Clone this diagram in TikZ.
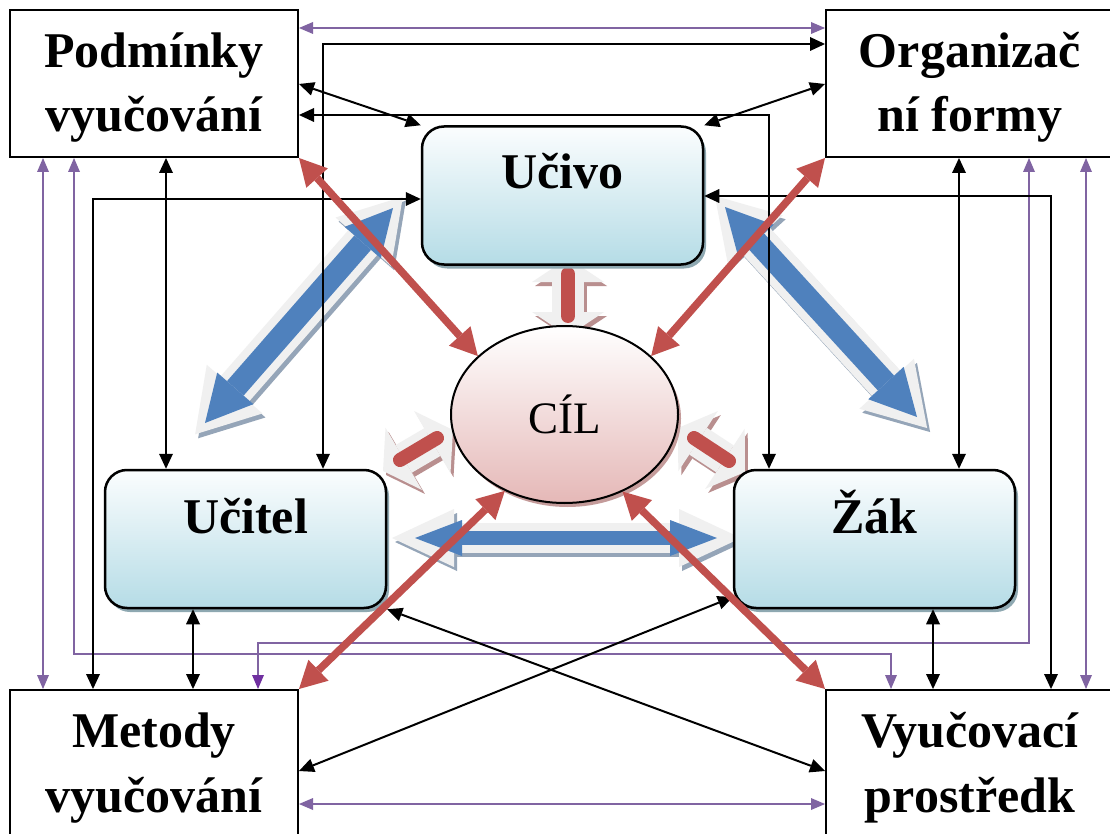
\documentclass[tikz,border=0pt]{standalone}
\usepackage{fontspec}
\setmainfont{Liberation Serif}
\usetikzlibrary{arrows.meta,shapes.geometric,shadows}
\definecolor{cred}{HTML}{C0504D}
\definecolor{cblue}{HTML}{4F81BD}
\definecolor{cpurple}{HTML}{8064A2}
\definecolor{dpurple}{HTML}{7030A0}
\definecolor{glowc}{HTML}{F0F0F0}
\definecolor{bsh}{HTML}{95A5B8}
\definecolor{rsh}{HTML}{B98F8F}
\definecolor{boxtop}{HTML}{FBFDFE}
\definecolor{boxbot}{HTML}{B5DCE6}
\definecolor{boxsh}{HTML}{8EA8B1}
\definecolor{ellbot}{HTML}{E5B8B7}
\definecolor{ellsh}{HTML}{C49B9A}
\tikzset{
  BTip/.tip={Triangle[length=15pt,width=14pt,line width=0pt]},
  PTip/.tip={Triangle[length=14pt,width=12pt,line width=0pt]},
  DTip/.tip={Triangle[length=14pt,width=12pt,line width=0pt,color=dpurple]},
  RTip/.tip={Triangle[length=27pt,width=29pt,line width=0pt]},
  GTip/.tip={Triangle[length=60pt,width=74pt,line width=0pt]},
  CTip/.tip={Triangle[length=46pt,width=48pt,line width=0pt]},
  HGTip/.tip={Triangle[length=62pt,width=58pt,line width=0pt]},
  HCTip/.tip={Triangle[length=47pt,width=36pt,line width=0pt]},
  SGTip/.tip={Triangle[length=24pt,width=72pt,line width=0pt]},
  cbox/.style={draw=black, line width=2pt, fill=white, rectangle, inner sep=0pt,
    minimum width=288pt, minimum height=147pt},
  rbox/.style={draw=black, line width=2.5pt, rounded corners=22pt, top color=boxtop,
    bottom color=boxbot, inner sep=0pt, minimum width=281pt, minimum height=138pt,
    drop shadow={shadow xshift=3pt,shadow yshift=-4pt,fill=boxsh,opacity=1}},
  lbl/.style={font=\fontsize{50}{60}\selectfont\bfseries, anchor=base, inner sep=0pt},
  blk/.style={line width=2pt, draw=black, {BTip}-{BTip}},
  prp/.style={line width=1.7pt, draw=cpurple, {PTip}-{PTip}},
  redarr/.style={line width=7.5pt, draw=cred, {RTip}-{RTip}},
  bglow/.style={line width=38pt, draw=glowc, {GTip}-{GTip}, shorten <=-15pt, shorten >=-15pt},
  bshadow/.style={bglow, draw=bsh, transform canvas={xshift=3pt,yshift=-4pt}},
  bcore/.style={line width=22pt, draw=cblue, {CTip}-{CTip}},
  hglow/.style={line width=30pt, draw=glowc, {HGTip}-{HGTip}, shorten <=-23pt, shorten >=-24pt},
  hshadow/.style={hglow, draw=bsh, transform canvas={xshift=3pt,yshift=-4pt}},
  hcore/.style={line width=14pt, draw=cblue, {HCTip}-{HCTip}},
  sglow/.style={line width=32pt, draw=glowc, {SGTip}-{SGTip}},
  sshadow/.style={sglow, draw=rsh, transform canvas={xshift=3pt,yshift=-4pt}},
  sbar/.style={line width=14pt, draw=cred, line cap=round},
}
\begin{document}
\begin{tikzpicture}[x=1pt,y=-1pt]
\useasboundingbox (0,0) rectangle (1110,834);
\fill[white] (0,0) rectangle (1110,834);
\clip (0,0) rectangle (1110,834);

% free ends of the wide arrows
\coordinate (b1a) at (393,208); \coordinate (b1b) at (205,423);
\coordinate (b2a) at (725,207); \coordinate (b2b) at (917,417);
\coordinate (b3a) at (415,538); \coordinate (b3b) at (717,538);
\coordinate (s1a) at (568,258); \coordinate (s1b) at (568,336);
\coordinate (r1a) at (568,274); \coordinate (r1b) at (568,316);
\coordinate (s2a) at (383,471); \coordinate (s2b) at (453,430);
\coordinate (r2a) at (400,460); \coordinate (r2b) at (437,438);
\coordinate (s3a) at (678,428); \coordinate (s3b) at (745,472);
\coordinate (r3a) at (694,438); \coordinate (r3b) at (729,461);

% wide blue arrows
\draw[bshadow] (b1a) -- (b1b);
\draw[bglow] (b1a) -- (b1b);
\draw[bcore] (b1a) -- (b1b);
\draw[bshadow] (b2a) -- (b2b);
\draw[bglow] (b2a) -- (b2b);
\draw[bcore] (b2a) -- (b2b);
\draw[hshadow] (b3a) -- (b3b);
\draw[hglow] (b3a) -- (b3b);
\draw[hcore] (b3a) -- (b3b);

% small red arrows
\draw[sshadow] (s1a) -- (s1b);
\draw[sglow] (s1a) -- (s1b);
\draw[sbar] (r1a) -- (r1b);
\draw[sshadow] (s2a) -- (s2b);
\draw[sglow] (s2a) -- (s2b);
\draw[sbar] (r2a) -- (r2b);
\draw[sshadow] (s3a) -- (s3b);
\draw[sglow] (s3a) -- (s3b);
\draw[sbar] (r3a) -- (r3b);

% boxes
\node[cbox] (P) at (154,83.5) {};
\node[cbox] (O) at (970,83.5) {};
\node[cbox] (M) at (154,763.5) {};
\node[cbox] (V) at (970,763.5) {};
\node[rbox] (U) at (562.5,195.5) {};
\node[rbox] (T) at (245.5,539) {};
\node[rbox] (Z) at (874.5,539) {};
\node[ellipse, draw=black, line width=2pt, minimum width=227pt, minimum height=177pt,
  inner sep=0pt, top color=white, bottom color=ellbot,
  drop shadow={shadow xshift=3pt,shadow yshift=-4pt,fill=ellsh,opacity=1}] (C) at (564.5,414.5) {};

% texts
\node[lbl] (Pt1) at (154,68) {Podmínky};
\node[lbl] (Pt2) at (154,132) {vyučování};
\node[lbl] (Ot1) at (970,68) {Organizač};
\node[lbl] (Ot2) at (970,132) {ní formy};
\node[lbl] (Mt1) at (154,747) {Metody};
\node[lbl] (Mt2) at (154,812) {vyučování};
\node[lbl] (Vt1) at (970,747) {Vyučovací};
\node[lbl] (Vt2) at (970,812) {prostředk};
\node[lbl] (Ut) at (562.5,189) {Učivo};
\node[lbl] (Tt) at (245.5,533) {Učitel};
\node[lbl] (Zt) at (874.5,533) {Žák};
\node[font=\fontsize{45}{52}\selectfont, anchor=base, inner sep=0pt] (Ct) at (564.5,433) {CÍL};

% routing coordinates
\coordinate (c1) at (166,0);
\coordinate (c2) at (959,0);
\coordinate (c3) at (193,0);
\coordinate (c4) at (933,0);
\coordinate (c5) at (323,44);
\coordinate (c6) at (769,115);
\coordinate (c7) at (0,84);
\coordinate (c9) at (93,199);
\coordinate (c10) at (1051,196);
\coordinate (c11) at (0,771);
\coordinate (c12) at (0,597);
\coordinate (c13) at (0,28);
\coordinate (c14) at (0,804);
\coordinate (c15) at (43,0);
\coordinate (c16) at (74,654);
\coordinate (c16b) at (891,654);
\coordinate (c17) at (1029,643);
\coordinate (c17b) at (258,643);
\coordinate (c18) at (1086,0);

% purple connectors
\draw[prp] (P.east |- c13) -- (O.west |- c13);
\draw[prp] (M.east |- c14) -- (V.west |- c14);
\draw[prp] (P.south -| c15) -- (M.north -| c15);
\draw[prp] (P.south -| c16) -- (c16) -- (c16b) -- (V.north -| c16b);
\draw[line width=1.7pt, draw=cpurple, {PTip}-{DTip}] (O.south -| c17) -- (c17) -- (c17b) -- (M.north -| c17b);
\draw[prp] (O.south -| c18) -- (V.north -| c18);

% black connectors
\draw[blk] (P.south -| c1) -- (T.north -| c1);
\draw[blk] (O.south -| c2) -- (Z.north -| c2);
\draw[blk] (T.south -| c3) -- (M.north -| c3);
\draw[blk] (Z.south -| c4) -- (V.north -| c4);
\draw[blk] (T.north -| c5) |- (O.west |- c5);
\draw[blk] (P.east |- c6) -| (Z.north -| c6);
\draw[blk] (P.east |- c7) -- (U.north west);
\draw[blk] (O.west |- c7) -- (U.north east);
\draw[blk] (U.west |- c9) -| (M.north -| c9);
\draw[blk] (U.east |- c10) -| (V.north -| c10);
\draw[blk] (T.south east) -- (V.west |- c11);
\draw[blk] (Z.west |- c12) -- (M.east |- c11);

% red connectors
\draw[redarr] (P.south east) -- (C.146);
\draw[redarr] (O.south west) -- (C.34);
\draw[redarr] (M.north east) -- (C.232);
\draw[redarr] (V.north west) -- (C.307);
\end{tikzpicture}
\end{document}
